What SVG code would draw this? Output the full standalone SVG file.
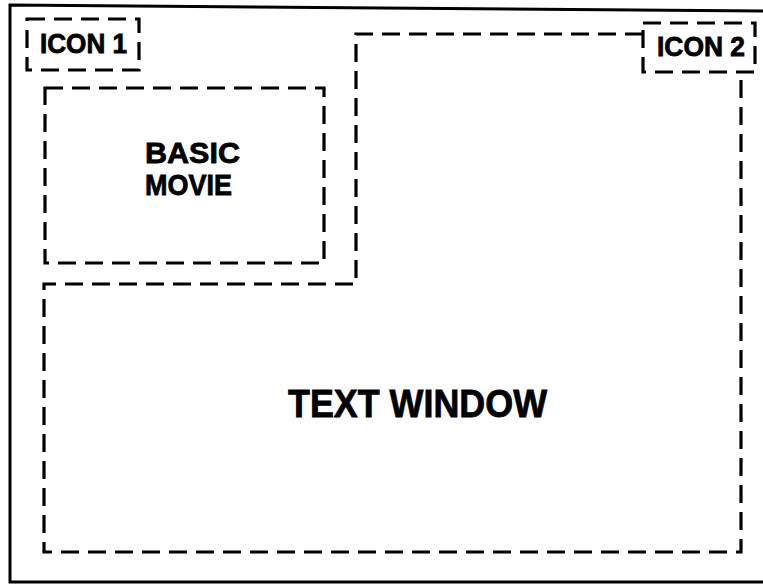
<svg xmlns="http://www.w3.org/2000/svg" width="763" height="586" viewBox="0 0 763 586">
<style>
.frame{fill:none;stroke:#000;stroke-width:3}
.dash{fill:none;stroke:#000;stroke-width:3.2;stroke-dasharray:18 9;stroke-linejoin:miter}
.lbl{font-family:"Liberation Sans",Arial,sans-serif;font-weight:bold;fill:#000;stroke:#000;stroke-width:0.8}
</style>
<rect width="763" height="586" fill="#fff"/>
<path class="frame" d="M770 11 L10 5 L10 582 L770 582"/>
<g id="icon1">
<rect class="dash" x="27" y="19" width="112" height="51"/>
<text class="lbl" x="40" y="53" font-size="27" textLength="87" lengthAdjust="spacingAndGlyphs">ICON 1</text>
</g>
<g id="icon2">
<rect class="dash" x="643" y="23" width="112" height="49"/>
<text class="lbl" x="657" y="56" font-size="27" textLength="88" lengthAdjust="spacingAndGlyphs">ICON 2</text>
</g>
<g id="basic-movie">
<rect class="dash" x="45" y="88" width="279" height="175"/>
<text class="lbl" x="145" y="163" font-size="30" textLength="95" lengthAdjust="spacingAndGlyphs">BASIC</text>
<text class="lbl" x="145" y="195" font-size="30" textLength="87" lengthAdjust="spacingAndGlyphs">MOVIE</text>
</g>
<g id="text-window">
<path class="dash" d="M643 34 L356 34 L356 284 L44 284 L44 552 L741 552 L741 72"/>
<text class="lbl" x="288" y="417" font-size="39" textLength="259" lengthAdjust="spacingAndGlyphs">TEXT WINDOW</text>
</g>
<g id="connectors"></g>
</svg>
